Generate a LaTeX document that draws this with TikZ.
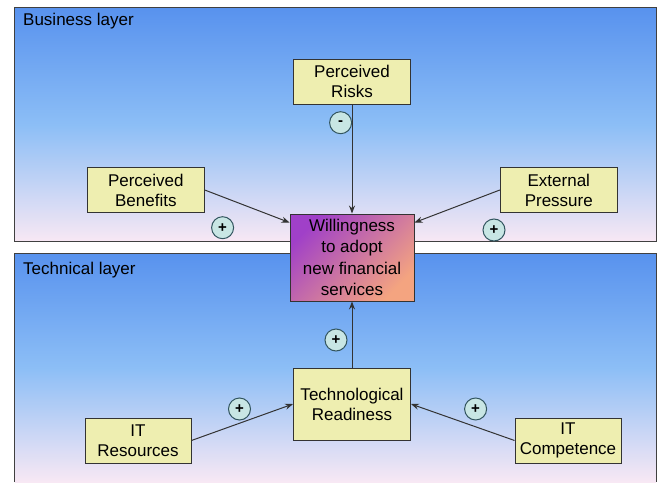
\documentclass[tikz,border=0pt]{standalone}
\usepackage{fontspec}
\setmainfont{Liberation Sans}
\usetikzlibrary{arrows.meta}
\definecolor{layertop}{RGB}{88,146,238}
\definecolor{layermid}{RGB}{140,190,246}
\definecolor{layerbot}{RGB}{248,232,244}
\definecolor{boxfill}{RGB}{238,238,176}
\definecolor{signfill}{RGB}{200,230,228}
\definecolor{signline}{RGB}{50,85,95}
\definecolor{willtop}{RGB}{160,64,200}
\definecolor{willbot}{RGB}{244,164,128}
\begin{document}
\begin{tikzpicture}[x=1pt,y=-1pt,
    every node/.style={font=\fontsize{17}{20}\selectfont},
    factor/.style={draw=black!80,fill=boxfill,align=center,inner sep=0pt,line width=0.9pt,
        minimum width=117pt,minimum height=45pt},
    sign/.style={circle,draw=signline,fill=signfill,line width=1pt,
        minimum size=22pt,inner sep=0pt,font=\fontsize{15}{15}\selectfont\bfseries},
    link/.style={draw=black!80,line width=1pt,-{Stealth[length=8pt,width=6pt]}}]
    \useasboundingbox (0,0) rectangle (661,482);
    % business layer
    \shade[top color=layertop,bottom color=layerbot,middle color=layermid] (14.8,7.5) rectangle (656,241.5);
    \draw[black!75,line width=0.8pt] (14.8,7.5) rectangle (656,241.5);
    \node[anchor=base west,inner sep=0pt] (blayer) at (23,25) {Business layer};
    % technical layer
    \shade[top color=layertop,bottom color=layerbot,middle color=layermid] (14.8,253) rectangle (656,482);
    \draw[black!75,line width=0.8pt] (14.8,482) |- (656,253) -- (656,482);
    \node[anchor=base west,inner sep=0pt] (tlayer) at (23,274) {Technical layer};
    % factors
    \node[factor] (risks) at (352,81.5) {Perceived\\Risks};
    \node[factor] (benefits) at (145.8,190) {Perceived\\Benefits};
    \node[factor] (pressure) at (558.8,190) {External\\Pressure};
    \node[factor,minimum width=124pt,minimum height=87pt,top color=willtop,bottom color=willbot,
        shading angle=45,font=\fontsize{17}{21.5}\selectfont] (willing) at (352,257.5)
        {Willingness\\to adopt\\new financial\\services};
    \node[factor,minimum height=72pt] (readiness) at (352,404) {Technological\\Readiness};
    \node[factor,minimum width=106pt] (resources) at (138,440.5) {IT\\Resources};
    \node[factor,minimum width=106pt] (competence) at (568,440.5) {IT\\Competence};
    % links
    \draw[link] (risks) -- (willing);
    \draw[link] (benefits.east) -- ([yshift=-9pt]willing.north west);
    \draw[link] (pressure.west) -- ([yshift=-9pt]willing.north east);
    \draw[link] (readiness) -- (willing);
    \draw[link] (resources.east) -- (readiness.west);
    \draw[link] (competence.west) -- (readiness.east);
    % signs
    \node[sign] (srisks) at (340.6,122.7) {-};
    \node[sign] (sbenefits) at (222.6,227.7) {+};
    \node[sign] (spressure) at (494,230) {+};
    \node[sign] (sreadiness) at (336,340) {+};
    \node[sign] (sresources) at (239.5,409) {+};
    \node[sign] (scompetence) at (475.6,409) {+};
\end{tikzpicture}
\end{document}
